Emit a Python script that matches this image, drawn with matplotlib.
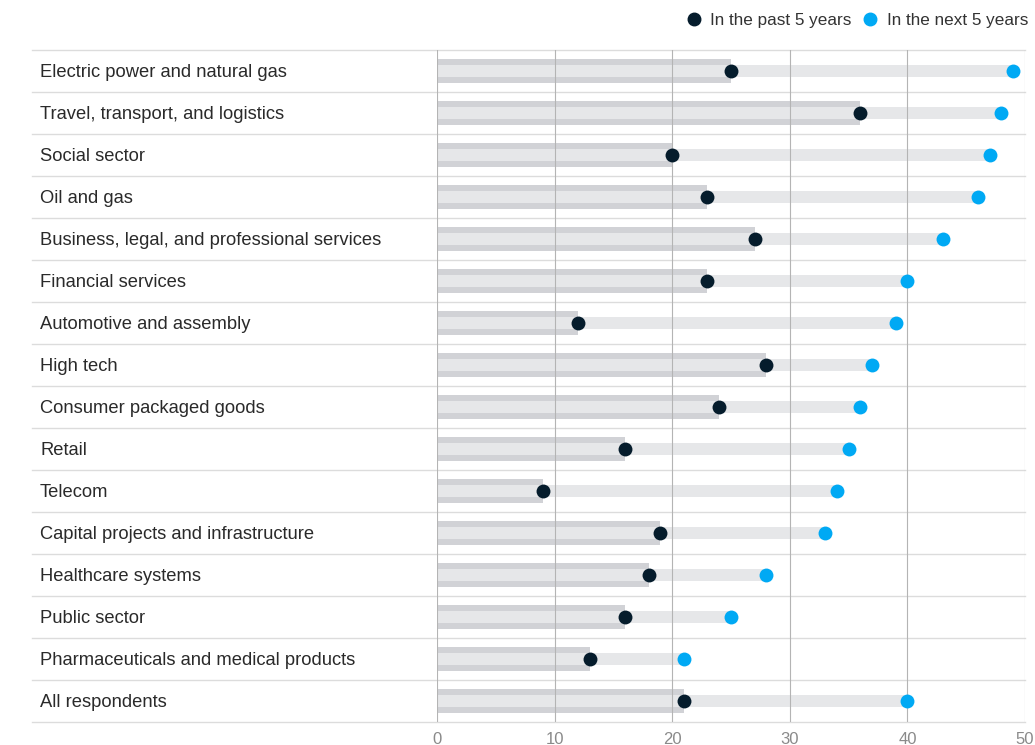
import matplotlib.pyplot as plt
from matplotlib.lines import Line2D
from matplotlib.transforms import blended_transform_factory

plt.rcParams['font.family'] = ['Liberation Sans', 'DejaVu Sans']

categories = [
    "Electric power and natural gas",
    "Travel, transport, and logistics",
    "Social sector",
    "Oil and gas",
    "Business, legal, and professional services",
    "Financial services",
    "Automotive and assembly",
    "High tech",
    "Consumer packaged goods",
    "Retail",
    "Telecom",
    "Capital projects and infrastructure",
    "Healthcare systems",
    "Public sector",
    "Pharmaceuticals and medical products",
    "All respondents",
]
past_5 = [25, 36, 20, 23, 27, 23, 12, 28, 24, 16, 9, 19, 18, 16, 13, 21]
next_5 = [49, 48, 47, 46, 43, 40, 39, 37, 36, 35, 34, 33, 28, 25, 21, 40]
xticks = [0, 10, 20, 30, 40, 50]

navy = '#051c2c'
blue = '#00a9f4'
grey_dark = '#d1d2d6'
grey_light = '#e6e7e9'

fig = plt.figure(figsize=(10.35, 7.45), dpi=100)
ax = fig.add_axes([437 / 1035, 1 - 722 / 745, 588 / 1035, 672 / 745])

n = len(categories)
ys = list(range(n))

# wide darker bar = past, narrow lighter bar = next
ax.barh(ys, past_5, height=0.55, color=grey_dark, zorder=1)
ax.barh(ys, next_5, height=0.29, color=grey_light, zorder=1.5)
for x in xticks:
    ax.axvline(x, color='#b4b4b4', lw=0.8, zorder=2)
ax.scatter(past_5, ys, s=100, color=navy, zorder=4, linewidths=0)
ax.scatter(next_5, ys, s=100, color=blue, zorder=4, linewidths=0)

ax.set_xlim(0, 50)
ax.set_ylim(n - 0.5, -0.5)
ax.set_xticks(xticks)
ax.set_yticks([])
ax.tick_params(axis='x', length=0, labelsize=12, labelcolor='#8a8a8a', pad=7)
for s in ax.spines.values():
    s.set_visible(False)

# row separators across label column
x_left = (32 - 437) / 588
for y in [i - 0.5 for i in range(n + 1)]:
    ax.axhline(y, xmin=x_left, xmax=1.0, color='#dcdcdc', lw=1, clip_on=False, zorder=0)

trans = blended_transform_factory(fig.transFigure, ax.transData)
for y, name in zip(ys, categories):
    ax.text(40 / 1035, y + 0.04, name, transform=trans, ha='left', va='center',
            fontsize=13.2, color='#2a2a2a')

handles = [
    Line2D([], [], marker='o', ls='', color=navy, markersize=9, label='In the past 5 years'),
    Line2D([], [], marker='o', ls='', color=blue, markersize=9, label='In the next 5 years'),
]
fig.legend(handles=handles, loc='upper right', bbox_to_anchor=(1.008, 1.003), ncol=2,
           frameon=False, fontsize=12.3, handlelength=1.0, handletextpad=0.45,
           columnspacing=0.6, labelcolor='#333333')

fig.savefig('out.png', dpi=100)
